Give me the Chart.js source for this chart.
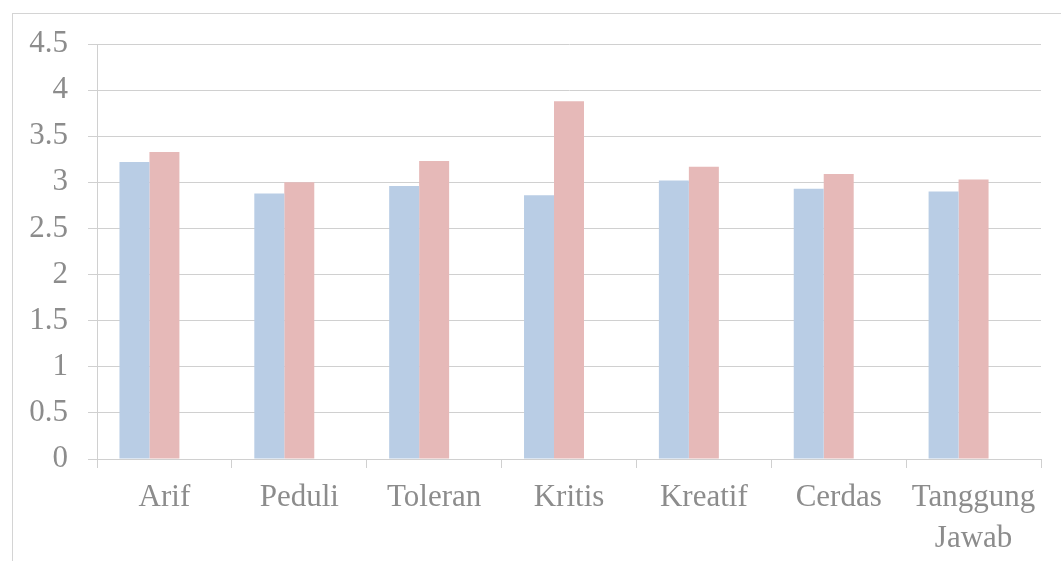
<!DOCTYPE html>
<html lang="en">
<head>
    <meta charset="UTF-8" />
    <title>Nilai Karakter</title>
    <style>
        html, body {
            margin: 0;
            padding: 0;
            background: #ffffff;
            overflow: hidden;
        }
        .frame {
            position: absolute;
            left: 12px;
            top: 13px;
            width: 1100px;
            height: 600px;
            border: 1px solid #d4d4d4;
        }
        .chart-box {
            position: absolute;
            left: 0;
            top: 0;
            width: 1061px;
            height: 561px;
        }
    </style>
</head>
<body>
    <div class="frame"></div>
    <div class="chart-box">
        <canvas id="chart"></canvas>
    </div>

    <script src="https://cdn.jsdelivr.net/npm/chart.js"></script>
    <script>
        // data
        const categories = ['Arif', 'Peduli', 'Toleran', 'Kritis', 'Kreatif', 'Cerdas', ['Tanggung', 'Jawab']];
        const seriesBlue = [3.22, 2.88, 2.96, 2.86, 3.02, 2.93, 2.90];
        const seriesPink = [3.33, 3.00, 3.23, 3.88, 3.17, 3.09, 3.03];
        const seriesEmpty = [0, 0, 0, 0, 0, 0, 0];
        const yTicks = [0, 0.5, 1, 1.5, 2, 2.5, 3, 3.5, 4, 4.5];

        const gridColor = '#d0d0d0';
        const textColor = '#8c8c8c';
        const serif = '"Liberation Serif", "Times New Roman", serif';

        new Chart(document.getElementById('chart'), {
            type: 'bar',
            data: {
                labels: categories,
                datasets: [
                    { label: 'Series 1', data: seriesBlue, backgroundColor: '#b9cde5' },
                    { label: 'Series 2', data: seriesPink, backgroundColor: '#e6b9b8' },
                    { label: 'Series 3', data: seriesEmpty, backgroundColor: 'rgba(0,0,0,0)' }
                ]
            },
            options: {
                responsive: true,
                maintainAspectRatio: false,
                animation: false,
                categoryPercentage: 0.667,
                barPercentage: 1.0,
                layout: { padding: { left: 0, top: 44, right: 20, bottom: 0 } },
                plugins: {
                    legend: { display: false },
                    tooltip: { enabled: false }
                },
                scales: {
                    x: {
                        grid: {
                            drawOnChartArea: false,
                            drawTicks: true,
                            tickLength: 9,
                            color: gridColor,
                            offset: true
                        },
                        border: { color: gridColor },
                        ticks: {
                            color: textColor,
                            padding: 10,
                            maxRotation: 0,
                            autoSkip: false,
                            font: { family: serif, size: 31, lineHeight: 1.3 }
                        },
                        afterFit: (scale) => { scale.height = 102; }
                    },
                    y: {
                        min: 0,
                        max: 4.5,
                        afterBuildTicks: (scale) => { scale.ticks = yTicks.map(v => ({ value: v })); },
                        grid: { color: gridColor, tickLength: 9 },
                        border: { color: gridColor },
                        ticks: {
                            color: textColor,
                            padding: 20,
                            callback: (v) => String(v),
                            font: { family: serif, size: 31 }
                        },
                        afterFit: (scale) => { scale.width = 97; }
                    }
                }
            }
        });
    </script>
</body>
</html>
